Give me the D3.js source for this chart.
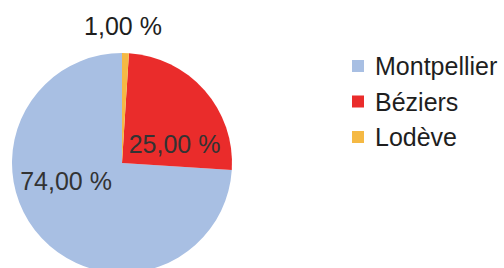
<!DOCTYPE html>
<html>
<head>
<meta charset="utf-8">
<script src="https://cdn.jsdelivr.net/npm/d3@7"></script>
<style>
html,body{margin:0;padding:0;background:#fff;}
svg{display:block;}
text{font-family:"Liberation Sans",Arial,sans-serif;}
</style>
</head>
<body>
<svg id="chart" width="504" height="268"></svg>
<script>
// Data
const categories = ["Montpellier", "Béziers", "Lodève"];
const values = [74, 25, 1];
const labels = ["74,00 %", "25,00 %", "1,00 %"];
const colors = ["#a8bfe3", "#ea2c2b", "#f5b944"];

// Layout (not data)
const cx = 122, cy = 163, r = 110;
const labelPos = {
  "Montpellier": [66, 190],
  "Béziers": [174.5, 153],
  "Lodève": [123, 35]
};

const svg = d3.select("#chart");
const data = categories.map((c, i) => ({cat: c, value: values[i], label: labels[i], color: colors[i]}));

// Pie order clockwise from top: Lodève, Béziers, Montpellier
const pieOrder = ["Lodève", "Béziers", "Montpellier"];
const pie = d3.pie().sort((a, b) => pieOrder.indexOf(a.cat) - pieOrder.indexOf(b.cat)).value(d => d.value);
const arc = d3.arc().innerRadius(0).outerRadius(r);

const g = svg.append("g").attr("transform", `translate(${cx},${cy})`);
g.selectAll("path").data(pie(data)).join("path")
  .attr("d", arc)
  .attr("fill", d => d.data.color);

svg.selectAll("text.lbl").data(data).join("text")
  .attr("class", "lbl")
  .attr("x", d => labelPos[d.cat][0])
  .attr("y", d => labelPos[d.cat][1])
  .attr("text-anchor", "middle")
  .attr("font-size", 25)
  .attr("fill", d => d.cat === "Lodève" ? "#1e1e1e" : "#333333")
  .text(d => d.label);

// Legend
const legend = svg.append("g");
const ly = d3.scalePoint().domain(categories).range([66, 137]);
legend.selectAll("rect").data(data).join("rect")
  .attr("x", 352).attr("y", d => ly(d.cat) - 6)
  .attr("width", 12).attr("height", 12)
  .attr("fill", d => d.color);
legend.selectAll("text").data(data).join("text")
  .attr("x", 375).attr("y", d => ly(d.cat) + 9)
  .attr("font-size", 25)
  .attr("fill", "#1e1e1e")
  .text(d => d.cat);
</script>
</body>
</html>
